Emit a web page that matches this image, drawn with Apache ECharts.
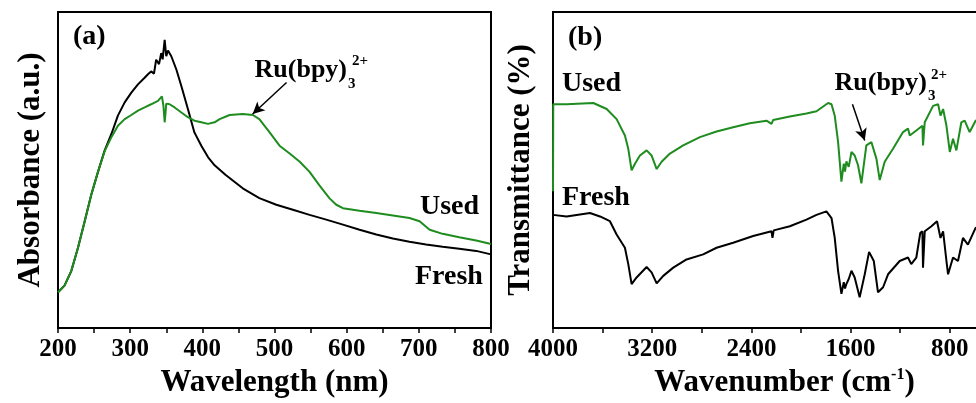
<!DOCTYPE html>
<html><head><meta charset="utf-8">
<script src="https://cdn.jsdelivr.net/npm/echarts@6/dist/echarts.min.js"></script>
<style>html,body{margin:0;padding:0;background:#fff;overflow:hidden;width:976px;height:403px}#c{width:1060px;height:403px}</style>
</head><body><div id="c"></div>
<script>
// Panel (a): UV-vis absorbance (arbitrary units, 0-100), x = wavelength (nm)
const uvFresh = [[200,11.3],[209,13.4],[218.5,18.1],[227.7,25.4],[237,33.8],[246,42.1],[255.4,49.4],[264.7,56.2],[274,61.4],[283,67.2],[292.4,71.4],[301.6,74.5],[310.8,77.1],[320,79.2],[325,80.4],[329,81.2],[333,80.5],[336,84.9],[340,83.5],[343,87.0],[345,85.0],[347.8,91.2],[350,86.0],[352.4,87.8],[357,86.0],[364,81.8],[371,76.5],[380,69.3],[389,61.9],[398.6,57.7],[407.8,54.1],[417,51.5],[432,48.5],[456,44.2],[479,41.1],[502.5,39.0],[525.5,37.4],[548.6,35.8],[571.7,34.3],[594.8,32.7],[617.9,31.1],[641,29.6],[664,28.3],[687,27.3],[710,26.4],[733,25.7],[756,25.1],[779.5,24.4],[800,23.3]];
const uvUsed = [[200,11.3],[209,13.4],[218.5,18.1],[227.7,25.4],[237,33.8],[246,42.1],[255.4,49.4],[264.7,56.0],[274,60.4],[283,64.0],[292.4,66.1],[301.6,67.4],[310.8,68.8],[320,69.8],[329,70.8],[338.5,71.9],[344,73.3],[346,70.5],[347.8,65.1],[349,68.0],[350,71.0],[354.7,70.8],[361.6,69.8],[371,68.2],[380,66.7],[389,65.6],[398.6,65.1],[407.8,64.6],[417,65.1],[424,66.1],[437.8,67.4],[456,67.7],[470,67.4],[479,66.1],[493,62.0],[507,57.7],[521,55.2],[535,52.6],[548.6,49.4],[562,45.2],[576,41.1],[585.6,39.0],[594.8,37.9],[617.9,37.1],[641,36.4],[664,35.6],[687,34.8],[701,33.8],[715,31.1],[733,29.8],[756,28.7],[779.5,27.7],[800,26.6]];
const uvArrow = [[516.7,77.7],[469.7,67.7]];
// Panel (b): FTIR transmittance (arbitrary units, 0-100), x = wavenumber (cm-1)
const irFresh = [[4000,35.8],[3890,35.3],[3702,36.4],[3621,35.3],[3541,33.8],[3487,29.6],[3420,25.4],[3393,20.2],[3366,13.9],[3326,16.0],[3245,19.3],[3205,17.6],[3164,14.1],[3111,16.5],[3030,19.1],[2923,21.7],[2789,23.3],[2681,25.4],[2547,27.0],[2386,29.1],[2238,30.6],[2230,28.5],[2220,30.9],[2090,32.2],[1956,34.3],[1875,35.8],[1795,36.9],[1754,34.8],[1728,28.5],[1701,18.1],[1674,10.8],[1655,14.5],[1645,12.5],[1634,13.9],[1615,15.5],[1593,18.1],[1567,16.0],[1527,9.7],[1486,17.0],[1451,24.1],[1413,21.2],[1379,11.3],[1338,12.9],[1298,17.0],[1204,21.2],[1137,22.3],[1111,20.2],[1070,22.3],[1038,30.1],[1021,30.6],[1016,19.1],[1002,30.6],[948,32.2],[903,33.8],[875,28.5],[854,30.6],[827,21.2],[814,17.0],[774,22.3],[734,21.2],[694,28.5],[654,26.4],[592,31.7],[500,33.0],[400,32.0]];
const irUsed = [[4000,43.3],[3998,70.8],[3890,70.8],[3675,71.2],[3567,69.3],[3487,66.1],[3420,60.9],[3393,56.7],[3366,49.9],[3339,52.0],[3299,54.6],[3245,56.2],[3205,54.6],[3164,50.3],[3124,52.6],[3057,55.2],[2950,57.8],[2815,60.4],[2681,62.2],[2547,63.5],[2413,64.8],[2278,65.6],[2238,64.6],[2225,65.8],[2090,66.9],[1956,67.9],[1875,68.6],[1781,71.2],[1754,70.8],[1728,67.2],[1701,58.9],[1674,46.3],[1655,52.0],[1645,49.5],[1634,52.7],[1615,51.0],[1593,55.7],[1567,54.6],[1540,51.5],[1513,45.8],[1473,57.8],[1432,58.8],[1392,53.6],[1365,46.8],[1325,52.6],[1258,56.7],[1177,62.0],[1137,63.1],[1123,60.9],[1070,62.5],[1021,64.0],[1016,57.8],[1002,65.1],[935,70.3],[894,70.8],[875,67.2],[854,69.3],[827,64.0],[800,55.7],[774,59.9],[747,56.2],[707,65.1],[680,65.6],[640,62.0],[592,65.6],[500,67.0],[400,66.0]];
const irArrow = [[1585,70.8],[1486,59.3]];

const F = "'Liberation Serif','Times New Roman',serif";
const GREEN = '#1e8c1e';
const chart = echarts.init(document.getElementById('c'), null, {renderer:'canvas'});

function xAxisCommon(extra){
  return Object.assign({
    type:'value', nameLocation:'middle', nameGap:39,
    nameTextStyle:{fontFamily:F, fontWeight:'bold', fontSize:31, color:'#000'},
    axisLine:{show:true, lineStyle:{color:'#000', width:2}},
    axisTick:{show:true, inside:false, length:5, lineStyle:{color:'#000', width:1.5}},
    minorTick:{show:true, splitNumber:2, length:5, lineStyle:{color:'#000', width:1.5}},
    axisLabel:{fontFamily:F, fontWeight:'bold', fontSize:25, color:'#000', margin:9, formatter:function(v){return String(v);}},
    splitLine:{show:false}
  }, extra);
}
function yAxisCommon(extra){
  return Object.assign({
    type:'value', min:0, max:100, nameLocation:'middle', nameRotate:90,
    nameTextStyle:{fontFamily:F, fontWeight:'bold', fontSize:31, color:'#000'},
    axisLine:{show:false}, axisTick:{show:false}, axisLabel:{show:false}, splitLine:{show:false}
  }, extra);
}
function arrowLine(pts){
  return {silent:true, symbol:['none','arrow'], symbolSize:[9,12], label:{show:false},
    lineStyle:{color:'#000', width:1.5, type:'solid'},
    data:[[{coord:pts[0]},{coord:pts[1]}]]};
}
function txt(t, x, y, size, align, color){
  return {type:'text', x:x, y:y, z:100, style:{text:t, fontFamily:F, fontWeight:'bold', fontSize:size, fill:color||'#000', align:align||'left', verticalAlign:'middle'}};
}

chart.setOption({
  animation:false,
  backgroundColor:'#fff',
  grid:[
    {left:58, right:569, top:12, bottom:72, show:true, borderColor:'#000', borderWidth:2, backgroundColor:'transparent'},
    {left:553, right:11, top:12, bottom:72, show:true, borderColor:'#000', borderWidth:2, backgroundColor:'transparent'}
  ],
  xAxis:[
    xAxisCommon({gridIndex:0, min:200, max:800, interval:100, name:'Wavelength (nm)'}),
    xAxisCommon({gridIndex:1, min:0, max:4000, interval:800, inverse:true,
      name:'Wavenumber (cm{sup|-1}{p|)}',
      nameTextStyle:{fontFamily:F, fontWeight:'bold', fontSize:31, color:'#000', padding:[0,33,0,0],
        rich:{sup:{fontFamily:F, fontWeight:'bold', fontSize:16, color:'#000', verticalAlign:'top', lineHeight:16},
              p:{fontFamily:F, fontWeight:'bold', fontSize:31, color:'#000'}}}})
  ],
  yAxis:[
    yAxisCommon({gridIndex:0, name:'Absorbance (a.u.)', nameGap:12}),
    yAxisCommon({gridIndex:1, name:'Transmittance (%)', nameGap:17})
  ],
  series:[
    {type:'line', name:'Fresh', xAxisIndex:0, yAxisIndex:0, data:uvFresh, showSymbol:false, lineStyle:{color:'#000', width:2}, z:2},
    {type:'line', name:'Used', xAxisIndex:0, yAxisIndex:0, data:uvUsed, showSymbol:false, lineStyle:{color:GREEN, width:2}, z:3, markLine:arrowLine(uvArrow)},
    {type:'line', name:'Fresh', xAxisIndex:1, yAxisIndex:1, data:irFresh, showSymbol:false, lineStyle:{color:'#000', width:2}, z:2},
    {type:'line', name:'Used', xAxisIndex:1, yAxisIndex:1, data:irUsed, showSymbol:false, lineStyle:{color:GREEN, width:2}, z:3, markLine:arrowLine(irArrow)}
  ],
  graphic:[
    txt('(a)', 73, 37, 28),
    txt('Used', 420, 207, 28),
    txt('Fresh', 415, 277, 28),
    txt('Ru(bpy)', 347, 70, 26, 'right'),
    txt('3', 348, 84, 15),
    txt('2+', 352, 61, 15),
    txt('(b)', 568, 38, 28),
    txt('Used', 562, 84, 28),
    txt('Fresh', 562, 198, 28),
    txt('Ru(bpy)', 927, 83, 26, 'right'),
    txt('3', 928, 96, 15),
    txt('2+', 931, 75, 15)
  ]
});
</script></body></html>
